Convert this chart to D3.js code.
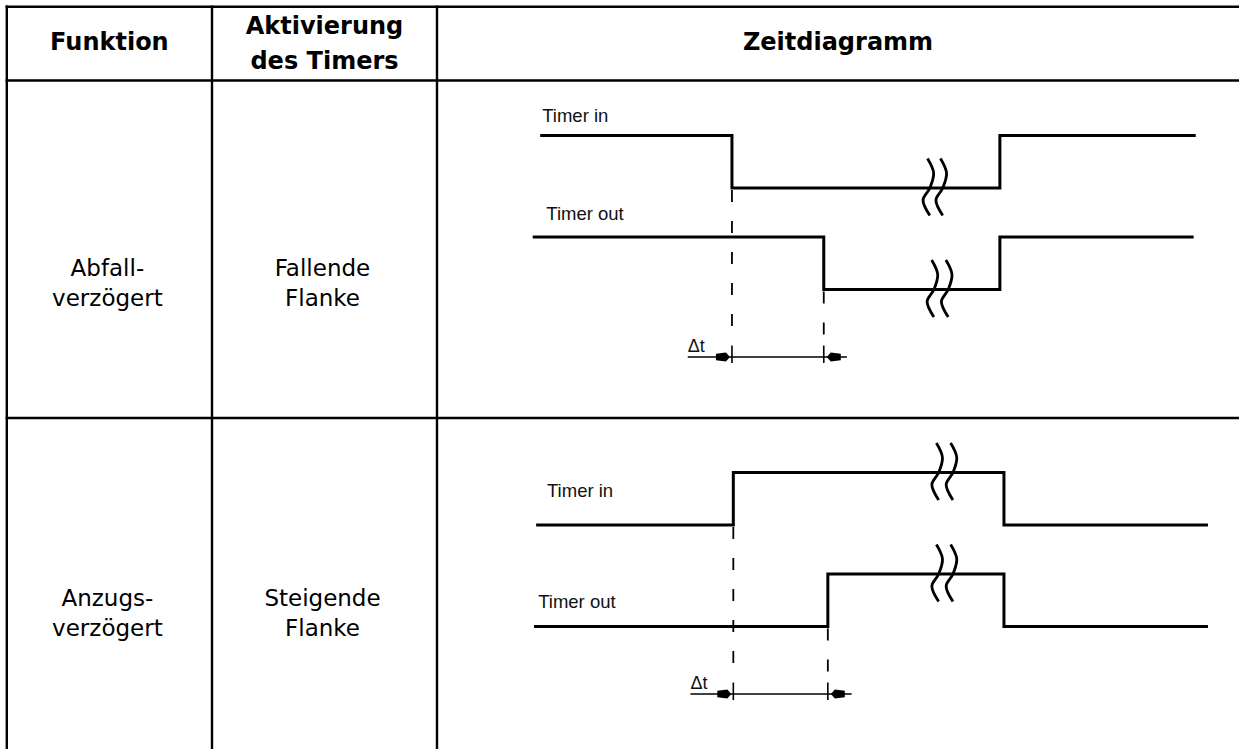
<!DOCTYPE html>
<html>
<head>
<meta charset="utf-8">
<script src="https://cdn.jsdelivr.net/npm/d3@7"></script>
<style>
  html, body { margin: 0; padding: 0; background: #fff; }
  svg { display: block; }
</style>
</head>
<body>
<svg id="chart" width="1239" height="749"></svg>
<script>
// ---------- DATA ----------
const headers = [["Funktion"], ["Aktivierung", "des Timers"], ["Zeitdiagramm"]];
const functionLabels = [["Abfall-", "verzögert"], ["Anzugs-", "verzögert"]];
const activationLabels = [["Fallende", "Flanke"], ["Steigende", "Flanke"]];
const signalNames = ["Timer in", "Timer out"];

// waveform breakpoints (time units 0..100) and level after each breakpoint (1 = high, 0 = low)
const row1InTimes  = [1.5, 29.7, 69.1, 97.9];
const row1InLevels = [1, 0, 1, 1];
const row1OutTimes  = [0.4, 43.2, 69.1, 97.6];
const row1OutLevels = [1, 0, 1, 1];
const row2InTimes  = [0.9, 29.9, 69.7, 99.7];
const row2InLevels = [0, 1, 0, 0];
const row2OutTimes  = [0.6, 43.8, 69.7, 99.7];
const row2OutLevels = [0, 1, 0, 0];

// break marks (time positions of the two wavy strokes) per signal
const row1InBreaks = [58.8, 60.7];
const row1OutBreaks = [59.4, 61.5];
const row2InBreaks = [60.1, 62.2];
const row2OutBreaks = [60.1, 62.2];

// label anchor (time, level) per signal
const labelTimes = [[1.8, 2.4], [2.5, 1.2]];
const labelLevels = [[1.25, 1.33], [0.54, 0.36]];

// delay dimension: [line start, tick1, tick2, line end] in time units
const row1Delay = [23.2, 29.7, 43.2, 46.6];
const row2Delay = [23.6, 29.9, 43.8, 47.3];
const deltaLabel = "Δt";

// ---------- LAYOUT ----------
const svg = d3.select("#chart");
const W = 1239, H = 749;
const colEdges = [6.8, 212, 437, W];
const rowEdges = [6.7, 80.5, 418, H];
const fontMain = "'DejaVu Sans', Verdana, sans-serif";
const fontDiag = "'Liberation Sans', Arial, sans-serif";

const x = d3.scaleLinear().domain([0, 100]).range([530, 1210]);

const rows = [
  { top: 81, textOffsets: [195, 225], signals: [
      { times: row1InTimes, levels: row1InLevels, breaks: row1InBreaks },
      { times: row1OutTimes, levels: row1OutLevels, breaks: row1OutBreaks }],
    delay: row1Delay },
  { top: 418, textOffsets: [188, 218], signals: [
      { times: row2InTimes, levels: row2InLevels, breaks: row2InBreaks },
      { times: row2OutTimes, levels: row2OutLevels, breaks: row2OutBreaks }],
    delay: row2Delay }
];

// ---------- TABLE GRID ----------
const grid = svg.append("g").attr("stroke", "#000").attr("stroke-width", 2.4);
[rowEdges[0], rowEdges[1], rowEdges[2]].forEach(yy => {
  grid.append("line").attr("x1", colEdges[0] - 1.2).attr("x2", W).attr("y1", yy).attr("y2", yy);
});
[colEdges[0], colEdges[1], colEdges[2]].forEach(xx => {
  grid.append("line").attr("x1", xx).attr("x2", xx).attr("y1", rowEdges[0] - 1.2).attr("y2", H);
});

// ---------- HEADERS ----------
const headerBaselines = [[50], [33.5, 68.5], [50]];
headers.forEach((lines, i) => {
  const cx = (colEdges[i] + colEdges[i + 1]) / 2;
  lines.forEach((t, j) => {
    svg.append("text").attr("x", cx).attr("y", headerBaselines[i][j])
      .attr("text-anchor", "middle").attr("font-family", fontMain)
      .attr("font-weight", "bold").attr("font-size", 24).attr("fill", "#000").text(t);
  });
});

// ---------- BODY TEXT ----------
[functionLabels, activationLabels].forEach((col, ci) => {
  const cx = (colEdges[ci] + colEdges[ci + 1]) / 2 - 2;
  col.forEach((lines, ri) => {
    lines.forEach((t, j) => {
      svg.append("text").attr("x", cx).attr("y", rows[ri].top + rows[ri].textOffsets[j])
        .attr("text-anchor", "middle").attr("font-family", fontMain)
        .attr("font-size", 23).attr("fill", "#000").text(t);
    });
  });
});

// ---------- TIMING DIAGRAMS ----------
const squiggle = d3.line().curve(d3.curveCatmullRom.alpha(0.5));
const squigglePts = [[-2.3, -29.5], [3.8, -15], [0, 0], [-6.8, 12], [0, 27.5]];

rows.forEach((row, ri) => {
  const g = svg.append("g");
  const ys = row.signals.map((s, i) => {
    const high = row.top + 54.5 + 101.5 * i;
    return d3.scaleLinear().domain([0, 1]).range([high + 52.5, high]);
  });

  row.signals.forEach((s, i) => {
    const y = ys[i];
    const stepPts = [];
    s.times.forEach((t, k) => {
      if (k > 0) stepPts.push([x(t), y(s.levels[k - 1])]);
      stepPts.push([x(t), y(s.levels[k])]);
    });
    g.append("path").attr("d", d3.line()(stepPts)).attr("fill", "none")
      .attr("stroke", "#000").attr("stroke-width", 3).attr("stroke-linejoin", "miter");

    s.breaks.forEach(bt => {
      let k = 0;
      while (k < s.times.length - 1 && s.times[k + 1] <= bt) k++;
      const cy = y(s.levels[k]);
      const cx = x(bt);
      g.append("path")
        .attr("d", squiggle(squigglePts.map(p => [cx + p[0], cy + p[1]])))
        .attr("fill", "none").attr("stroke", "#000").attr("stroke-width", 2.8);
    });

    g.append("text").attr("x", x(labelTimes[ri][i])).attr("y", y(labelLevels[ri][i]))
      .attr("font-family", fontDiag).attr("font-size", 18.5).attr("fill", "#111")
      .text(signalNames[i]);
  });

  // delay dimension
  const d = row.delay;
  const dimY = row.top + 276;
  const dashStarts = [ys[0](0), ys[1](0)];
  [d[1], d[2]].forEach((t, k) => {
    g.append("line").attr("x1", x(t)).attr("x2", x(t))
      .attr("y1", dashStarts[k] + 2).attr("y2", dimY - 12)
      .attr("stroke", "#000").attr("stroke-width", 1.8)
      .attr("stroke-dasharray", "12,19");
    g.append("line").attr("x1", x(t)).attr("x2", x(t))
      .attr("y1", dimY - 11.5).attr("y2", dimY + 6)
      .attr("stroke", "#000").attr("stroke-width", 1.6);
  });
  g.append("line").attr("x1", x(d[0])).attr("x2", x(d[3]))
    .attr("y1", dimY).attr("y2", dimY).attr("stroke", "#000").attr("stroke-width", 1.6);
  const arrow = (tipX, dir) => {
    const p = [[0, 0], [-4, -4.5], [-14, -3.2], [-14, 3.2], [-4, 4.5]]
      .map(q => [tipX + dir * q[0], dimY + q[1]]);
    g.append("path").attr("d", d3.line()(p) + "Z").attr("fill", "#000");
  };
  arrow(x(d[1]) - 2, 1);
  arrow(x(d[2]) + 3, -1);
  g.append("text").attr("x", x(d[0])).attr("y", dimY - 5)
    .attr("font-family", fontDiag).attr("font-size", 18).attr("fill", "#111")
    .text(deltaLabel);
});
</script>
</body>
</html>
